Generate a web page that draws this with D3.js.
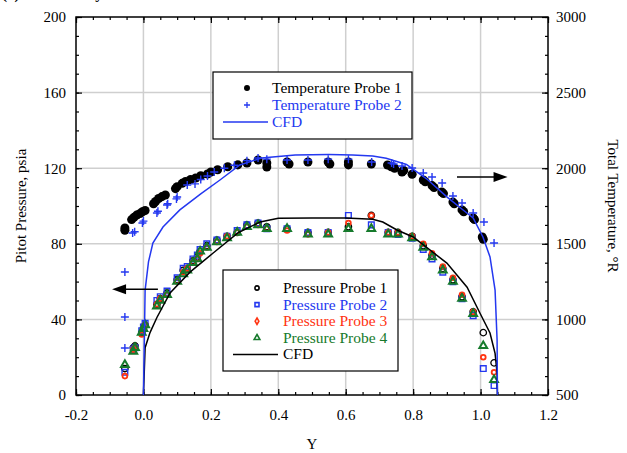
<!DOCTYPE html>
<html><head><meta charset="utf-8">
<script src="https://cdn.jsdelivr.net/npm/d3@7"></script>
<style>body{margin:0;background:#fff}svg{display:block}text{font-family:"Liberation Serif","Times New Roman",serif}</style>
</head><body><svg id="c" width="627" height="453"></svg>
<script>
// ---------- data ----------
const xTicks = [-0.2, 0.0, 0.2, 0.4, 0.6, 0.8, 1.0, 1.2];
const pTicks = [0, 40, 80, 120, 160, 200];
const tTicks = [500, 1000, 1500, 2000, 2500, 3000];

const tempCfdY = [0.0, 0.003, 0.005, 0.015, 0.028, 0.058, 0.108, 0.17, 0.227, 0.286, 0.35, 0.45, 0.55, 0.62, 0.68, 0.72, 0.78, 0.84, 0.9, 0.95, 0.978, 1.007, 1.028, 1.043, 1.049, 1.05];
const tempCfdT = [500, 900, 1194, 1380, 1505, 1611, 1724, 1830, 1922, 2021, 2067, 2088, 2090, 2088, 2080, 2066, 2025, 1930, 1810, 1720, 1671, 1545, 1413, 1194, 864, 500];

const pressCfdY = [0.0, 0.002, 0.005, 0.0195, 0.04, 0.079, 0.138, 0.206, 0.282, 0.346, 0.4, 0.5, 0.6, 0.68, 0.71, 0.752, 0.8, 0.9, 0.96, 0.998, 1.028, 1.043, 1.049, 1.05];
const pressCfdP = [0, 10, 25, 33, 41, 54, 65, 75, 86, 91.5, 93.5, 93.6, 93.6, 93, 91.5, 87.3, 83.6, 69.8, 57, 43.4, 32.8, 22, 11.6, 0];

const temp1Y = [-0.055, -0.055, -0.035, -0.028, -0.02, -0.01, -0.003, 0.005, 0.03, 0.036, 0.045, 0.055, 0.065, 0.095, 0.1, 0.115, 0.125, 0.14, 0.155, 0.17, 0.19, 0.2, 0.22, 0.25, 0.28, 0.307, 0.34, 0.366, 0.366, 0.426, 0.432, 0.488, 0.548, 0.553, 0.608, 0.608, 0.676, 0.724, 0.735, 0.745, 0.767, 0.772, 0.797, 0.83, 0.836, 0.856, 0.862, 0.885, 0.89, 0.918, 0.922, 0.945, 0.95, 0.978, 0.982, 1.005, 1.008];
const temp1T = [1590, 1605, 1660, 1675, 1690, 1700, 1712, 1720, 1765, 1780, 1800, 1812, 1823, 1865, 1878, 1900, 1912, 1925, 1935, 1950, 1962, 1975, 1990, 2010, 2022, 2034, 2054, 2034, 2008, 2041, 2028, 2041, 2041, 2028, 2041, 2022, 2028, 2021, 2010, 2000, 1975, 1985, 1960, 1922, 1910, 1885, 1872, 1843, 1832, 1776, 1765, 1724, 1712, 1671, 1660, 1545, 1530];

const temp2Y = [-0.055, -0.055, -0.055, -0.032, -0.026, -0.003, 0.0, 0.04, 0.043, 0.07, 0.072, 0.098, 0.1, 0.13, 0.153, 0.17, 0.19, 0.21, 0.24, 0.27, 0.307, 0.34, 0.366, 0.426, 0.488, 0.548, 0.608, 0.677, 0.736, 0.742, 0.767, 0.797, 0.83, 0.856, 0.886, 0.918, 0.945, 0.978, 1.01, 1.04];
const temp2T = [811, 1016, 1313, 1571, 1580, 1638, 1650, 1704, 1715, 1757, 1765, 1797, 1810, 1889, 1896, 1925, 1948, 1975, 2000, 2020, 2050, 2067, 2060, 2054, 2054, 2060, 2060, 2041, 2034, 2028, 2015, 2001, 1968, 1942, 1902, 1816, 1770, 1704, 1644, 1505];

const pressY = [-0.055, -0.03, -0.025, -0.005, 0.0, 0.005, 0.04, 0.05, 0.07, 0.1, 0.118, 0.13, 0.147, 0.16, 0.168, 0.188, 0.218, 0.248, 0.278, 0.307, 0.34, 0.366, 0.426, 0.488, 0.548, 0.608, 0.676, 0.726, 0.755, 0.797, 0.83, 0.856, 0.888, 0.918, 0.945, 0.978, 1.008, 1.04];
const press1 = [14, 25, 26, 33, 35, 37, 48, 51, 54, 61, 66, 67, 71, 73, 76, 79, 82, 84, 86, 90, 91, 89, 88, 86, 86, 89, 95, 86, 86, 84, 79, 74, 67, 61, 52, 44, 33, 17];
const press2 = [12, 24, 25, 34, 36, 38, 50, 52, 55, 62, 67, 68, 72, 74, 77, 80, 82, 84, 87, 90, 91, 88, 88, 86, 86, 95, 90, 86, 85, 83, 77, 72, 65, 60, 51, 42, 14, 5];
const press3 = [10, 24, 25, 32, 35, 37, 48, 51, 53, 60, 65, 67, 70, 72, 75, 78, 81, 84, 86, 89, 90, 88, 87, 85, 86, 91, 95, 86, 86, 84, 80, 75, 68, 62, 53, 44, 20, 12];
const press4 = [16, 23, 25, 33, 35, 37, 47, 50, 53, 60, 64, 66, 70, 72, 76, 78, 81, 83, 86, 89, 90, 88, 88, 85, 85, 88, 88, 85, 85, 83, 78, 73, 66, 60, 51, 43, 26, 8];

const arrowLeft = {y0: 0.043, y1: -0.093, p: 56};
const arrowRight = {y0: 0.93, y1: 1.08, t: 1942};

const tempLegend = ["Temperature Probe 1", "Temperature Probe 2", "CFD"];
const pressLegend = ["Pressure Probe 1", "Pressure Probe 2", "Pressure Probe 3", "Pressure Probe 4", "CFD"];

// ---------- styles ----------
const BLUE = "#2438f0", RED = "#ff3311", GREEN = "#167a2c", GRID = "#cfcfcf";
const FONT = "Liberation Serif";

const svg = d3.select("#c");
const W = 627, H = 453;
const m = {l: 76, r: 79, t: 17, b: 58};
const x = d3.scaleLinear().domain([-0.2, 1.2]).range([m.l, W - m.r]);
const yP = d3.scaleLinear().domain([0, 200]).range([H - m.b, m.t]);
const yT = d3.scaleLinear().domain([500, 3000]).range([H - m.b, m.t]);
const pw = W - m.l - m.r, ph = H - m.t - m.b;

// title (cropped at top in reference)
svg.append("text").attr("x", 2).attr("y", -1).attr("font-size", 15).attr("font-weight", "bold").attr("font-family", FONT).text("(a) Pitot Survey");

// grid
const g = svg.append("g");
g.selectAll(".gx").data(xTicks.slice(1, -1)).join("line")
  .attr("x1", d => x(d)).attr("x2", d => x(d)).attr("y1", m.t).attr("y2", H - m.b)
  .attr("stroke", GRID).attr("stroke-width", 1.5);
g.selectAll(".gy").data(pTicks.slice(1, -1)).join("line")
  .attr("y1", d => yP(d)).attr("y2", d => yP(d)).attr("x1", m.l).attr("x2", W - m.r)
  .attr("stroke", GRID).attr("stroke-width", 1.5);

// axes
function styleAxis(sel) {
  sel.attr("font-family", FONT);
  sel.selectAll("path").remove();
  sel.selectAll("line").attr("stroke", "#000").attr("stroke-width", 1.2);
  sel.selectAll("text").attr("font-size", 15).attr("fill", "#000").attr("font-family", FONT);
}
const xMinor = d3.range(-0.2, 1.2001, 0.05);
const pMinor = d3.range(0, 200.1, 10);
const fmtX = d => d3.format(".1f")(d).replace("\u2212", "-");

svg.append("g").attr("transform", `translate(0,${H - m.b})`)
  .call(d3.axisBottom(x).tickValues(xMinor).tickSize(-3).tickFormat("")).call(styleAxis);
svg.append("g").attr("transform", `translate(0,${H - m.b})`)
  .call(d3.axisBottom(x).tickValues(xTicks).tickSizeInner(-6).tickSizeOuter(0).tickPadding(14).tickFormat(fmtX)).call(styleAxis);
svg.append("g").attr("transform", `translate(0,${m.t})`)
  .call(d3.axisTop(x).tickValues(xMinor).tickSize(-3).tickFormat("")).call(styleAxis);
svg.append("g").attr("transform", `translate(0,${m.t})`)
  .call(d3.axisTop(x).tickValues(xTicks).tickSize(-6).tickFormat("")).call(styleAxis);

svg.append("g").attr("transform", `translate(${m.l},0)`)
  .call(d3.axisLeft(yP).tickValues(pMinor).tickSize(-3).tickFormat("")).call(styleAxis);
svg.append("g").attr("transform", `translate(${m.l},0)`)
  .call(d3.axisLeft(yP).tickValues(pTicks).tickSizeInner(-6).tickPadding(10).tickFormat(d3.format("d"))).call(styleAxis);
const tMinor = d3.range(500, 3000.1, 125);
svg.append("g").attr("transform", `translate(${W - m.r},0)`)
  .call(d3.axisRight(yT).tickValues(tMinor).tickSize(-3).tickFormat("")).call(styleAxis);
svg.append("g").attr("transform", `translate(${W - m.r},0)`)
  .call(d3.axisRight(yT).tickValues(tTicks).tickSizeInner(-6).tickPadding(8).tickFormat(d3.format("d"))).call(styleAxis);

// frame
svg.append("rect").attr("x", m.l).attr("y", m.t).attr("width", pw).attr("height", ph)
  .attr("fill", "none").attr("stroke", "#000").attr("stroke-width", 1.5);

// axis titles
svg.append("text").attr("transform", `translate(26,${m.t + ph / 2}) rotate(-90)`)
  .attr("text-anchor", "middle").attr("font-size", 15).attr("font-family", FONT).text("Pitot Pressure, psia");
svg.append("text").attr("transform", `translate(608,${m.t + ph / 2}) rotate(90)`)
  .attr("text-anchor", "middle").attr("font-size", 15).attr("font-family", FONT).text("Total Temperature, °R");
svg.append("text").attr("x", x(0.5)).attr("y", 449).attr("text-anchor", "middle").attr("font-size", 15).attr("font-family", FONT).text("Y");

// clip
svg.append("clipPath").attr("id", "clip").append("rect").attr("x", m.l).attr("y", m.t).attr("width", pw).attr("height", ph);
const plot = svg.append("g").attr("clip-path", "url(#clip)");

// symbols
const sym = {
  circle: d3.symbol().type(d3.symbolCircle).size(32),
  square: d3.symbol().type(d3.symbolSquare).size(32),
  diamond: d3.symbol().type(d3.symbolCircle).size(18),
  triangle: d3.symbol().type(d3.symbolTriangle).size(26),
  dot: d3.symbol().type(d3.symbolCircle).size(64)
};
function plusPath(s) { return `M${-s},0H${s}M0,${-s}V${s}`; }

// pressure probes
const pressSeries = [
  {vals: press1, sym: "circle", color: "#000", fill: "none", sw: 1.3},
  {vals: press2, sym: "square", color: BLUE, fill: "none", sw: 1.4},
  {vals: press3, sym: "diamond", color: RED, fill: "none", sw: 1.8},
  {vals: press4, sym: "triangle", color: GREEN, fill: "none", sw: 2.0}
];
pressSeries.forEach(s => {
  plot.append("g").selectAll("path").data(pressY.map((v, i) => [v, s.vals[i]])).join("path")
    .attr("transform", d => `translate(${x(d[0])},${yP(d[1])})`)
    .attr("d", sym[s.sym]()).attr("fill", s.fill).attr("stroke", s.color).attr("stroke-width", s.sw);
});

// CFD lines
plot.append("path").datum(pressCfdY.map((v, i) => [v, pressCfdP[i]]))
  .attr("d", d3.line().x(d => x(d[0])).y(d => yP(d[1]))).attr("fill", "none").attr("stroke", "#000").attr("stroke-width", 1.5);

// temperature probes
plot.append("g").selectAll("path").data(temp1Y.map((v, i) => [v, temp1T[i]])).join("path")
  .attr("transform", d => `translate(${x(d[0])},${yT(d[1])})`)
  .attr("d", sym.dot()).attr("fill", "#000");
plot.append("g").selectAll("path").data(temp2Y.map((v, i) => [v, temp2T[i]])).join("path")
  .attr("transform", d => `translate(${x(d[0])},${yT(d[1])})`)
  .attr("d", plusPath(4)).attr("fill", "none").attr("stroke", BLUE).attr("stroke-width", 1.4);
plot.append("path").datum(tempCfdY.map((v, i) => [v, tempCfdT[i]]))
  .attr("d", d3.line().x(d => x(d[0])).y(d => yT(d[1]))).attr("fill", "none").attr("stroke", BLUE).attr("stroke-width", 1.5);

// arrows
function arrow(x0, x1, yy) {
  const dir = Math.sign(x1 - x0);
  svg.append("line").attr("x1", x0).attr("x2", x1 - dir * 10).attr("y1", yy).attr("y2", yy).attr("stroke", "#000").attr("stroke-width", 1.5);
  svg.append("path").attr("d", `M${x1},${yy}L${x1 - dir * 14},${yy - 5}L${x1 - dir * 14},${yy + 5}Z`).attr("fill", "#000");
}
arrow(x(arrowLeft.y0), x(arrowLeft.y1), yP(arrowLeft.p));
arrow(x(arrowRight.y0), x(arrowRight.y1), yT(arrowRight.t));

// legend 1
const L1 = svg.append("g");
L1.append("rect").attr("x", 213).attr("y", 72).attr("width", 199).attr("height", 67).attr("fill", "#fff").attr("stroke", "#000").attr("stroke-width", 1.2);
const l1c = ["#000", BLUE, BLUE];
tempLegend.forEach((t, i) => {
  const yy = 88 + i * 17;
  L1.append("text").attr("x", 272).attr("y", yy + 5).attr("font-size", 15.5).attr("font-family", FONT).attr("fill", l1c[i]).text(t);
});
L1.append("path").attr("transform", "translate(247,88)").attr("d", d3.symbol().type(d3.symbolCircle).size(28)()).attr("fill", "#000");
L1.append("path").attr("transform", "translate(247,105)").attr("d", plusPath(3)).attr("stroke", BLUE).attr("stroke-width", 1.3);
L1.append("line").attr("x1", 223).attr("x2", 268).attr("y1", 122).attr("y2", 122).attr("stroke", BLUE).attr("stroke-width", 1.5);

// legend 2
const L2 = svg.append("g");
L2.append("rect").attr("x", 223).attr("y", 270).attr("width", 175).attr("height", 101).attr("fill", "#fff").attr("stroke", "#000").attr("stroke-width", 1.2);
const l2c = ["#000", BLUE, RED, GREEN, "#000"];
pressLegend.forEach((t, i) => {
  const yy = 288 + i * 16.6;
  L2.append("text").attr("x", 283).attr("y", yy + 5).attr("font-size", 15.5).attr("font-family", FONT).attr("fill", l2c[i]).text(t);
  if (i < 4) {
    const s = pressSeries[i];
    L2.append("path").attr("transform", `translate(257,${yy})`).attr("d", d3.symbol().type(
      [d3.symbolCircle, d3.symbolSquare, d3.symbolDiamond, d3.symbolTriangle][i]).size([14, 16, 12, 14][i])())
      .attr("fill", "none").attr("stroke", s.color).attr("stroke-width", 1.6);
  } else {
    L2.append("line").attr("x1", 233).attr("x2", 278).attr("y1", yy).attr("y2", yy).attr("stroke", "#000").attr("stroke-width", 1.5);
  }
});
</script></body></html>
